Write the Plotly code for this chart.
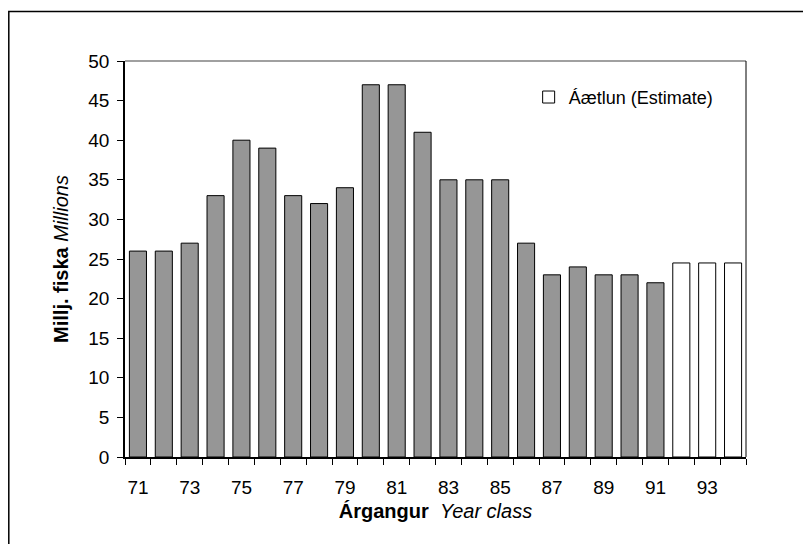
import plotly.graph_objects as go

# Year classes and numbers (millions of fish)
years = list(range(71, 95))
values = [26, 26, 27, 33, 40, 39, 33, 32, 34, 47, 47, 41, 35, 35, 35, 27,
          23, 24, 23, 23, 22, 24.5, 24.5, 24.5]
is_estimate = [False] * 21 + [True] * 3
tick_labels = ["71", "73", "75", "77", "79", "81", "83", "85", "87", "89", "91", "93"]
tick_years = [71, 73, 75, 77, 79, 81, 83, 85, 87, 89, 91, 93]

obs_x = [y for y, e in zip(years, is_estimate) if not e]
obs_y = [v for v, e in zip(values, is_estimate) if not e]
est_x = [y for y, e in zip(years, is_estimate) if e]
est_y = [v for v, e in zip(values, is_estimate) if e]

font = "Liberation Sans, Arial, sans-serif"

# page has an 8px body margin, so the figure sits at (8, 8)
L, T, W, H = 117, 53, 621, 396

fig = go.Figure()
fig.add_trace(go.Bar(
    x=obs_x, y=obs_y, width=0.66, marker=dict(color="#969696", line=dict(color="black", width=1)),
    showlegend=False, name="Observed"
))
fig.add_trace(go.Bar(
    x=est_x, y=est_y, width=0.66, marker=dict(color="white", line=dict(color="black", width=1)),
    showlegend=True, name="Áætlun (Estimate)"
))

# outer frame
fig.add_shape(type="rect", xref="paper", yref="paper",
              x0=(0.8 - L) / W, x1=(801 - L) / W,
              y0=-0.3, y1=(T + H - 3.5) / H,
              line=dict(color="black", width=1.5), fillcolor="rgba(0,0,0,0)")
# plot area top/right edges
fig.add_shape(type="line", xref="paper", yref="paper", x0=0, x1=1, y0=1, y1=1,
              line=dict(color="#808080", width=1.5))
fig.add_shape(type="line", xref="paper", yref="paper", x0=1, x1=1, y0=0, y1=1,
              line=dict(color="black", width=1))

fig.update_layout(
    width=811, height=544,
    margin=dict(l=L, r=811 - L - W, t=T, b=544 - T - H),
    plot_bgcolor="white", paper_bgcolor="white",
    barmode="overlay",
    font=dict(family=font, size=19, color="black"),
    showlegend=True,
    legend=dict(x=0.65, y=0.955, xanchor="left", yanchor="top",
                bgcolor="rgba(0,0,0,0)", font=dict(size=18),
                itemwidth=30, tracegroupgap=0),
    xaxis=dict(
        range=[70.5, 94.5], tickmode="array", tickvals=tick_years, ticktext=tick_labels,
        ticks="", showline=True, linecolor="black", linewidth=1.5, showgrid=False,
        zeroline=False, tickfont=dict(size=19), ticklabelstandoff=12,
        minor=dict(tickmode="array", tickvals=[y - 0.5 for y in years] + [94.5],
                   ticks="outside", ticklen=6, tickcolor="black", tickwidth=1, showgrid=False),
        title=dict(text="<b>Árgangur</b>  <i>Year class</i>", font=dict(size=20), standoff=7),
    ),
    yaxis=dict(
        range=[0, 50], tickmode="linear", tick0=0, dtick=5,
        ticks="outside", ticklen=6, tickcolor="black", showline=True, linecolor="black",
        linewidth=1.5, showgrid=False, zeroline=False, tickfont=dict(size=19),
        ticklabelstandoff=4,
        title=dict(text="<b>Millj. fiska</b> <i>Millions</i>", font=dict(size=20), standoff=14),
    ),
)

fig.write_html("out.html")
